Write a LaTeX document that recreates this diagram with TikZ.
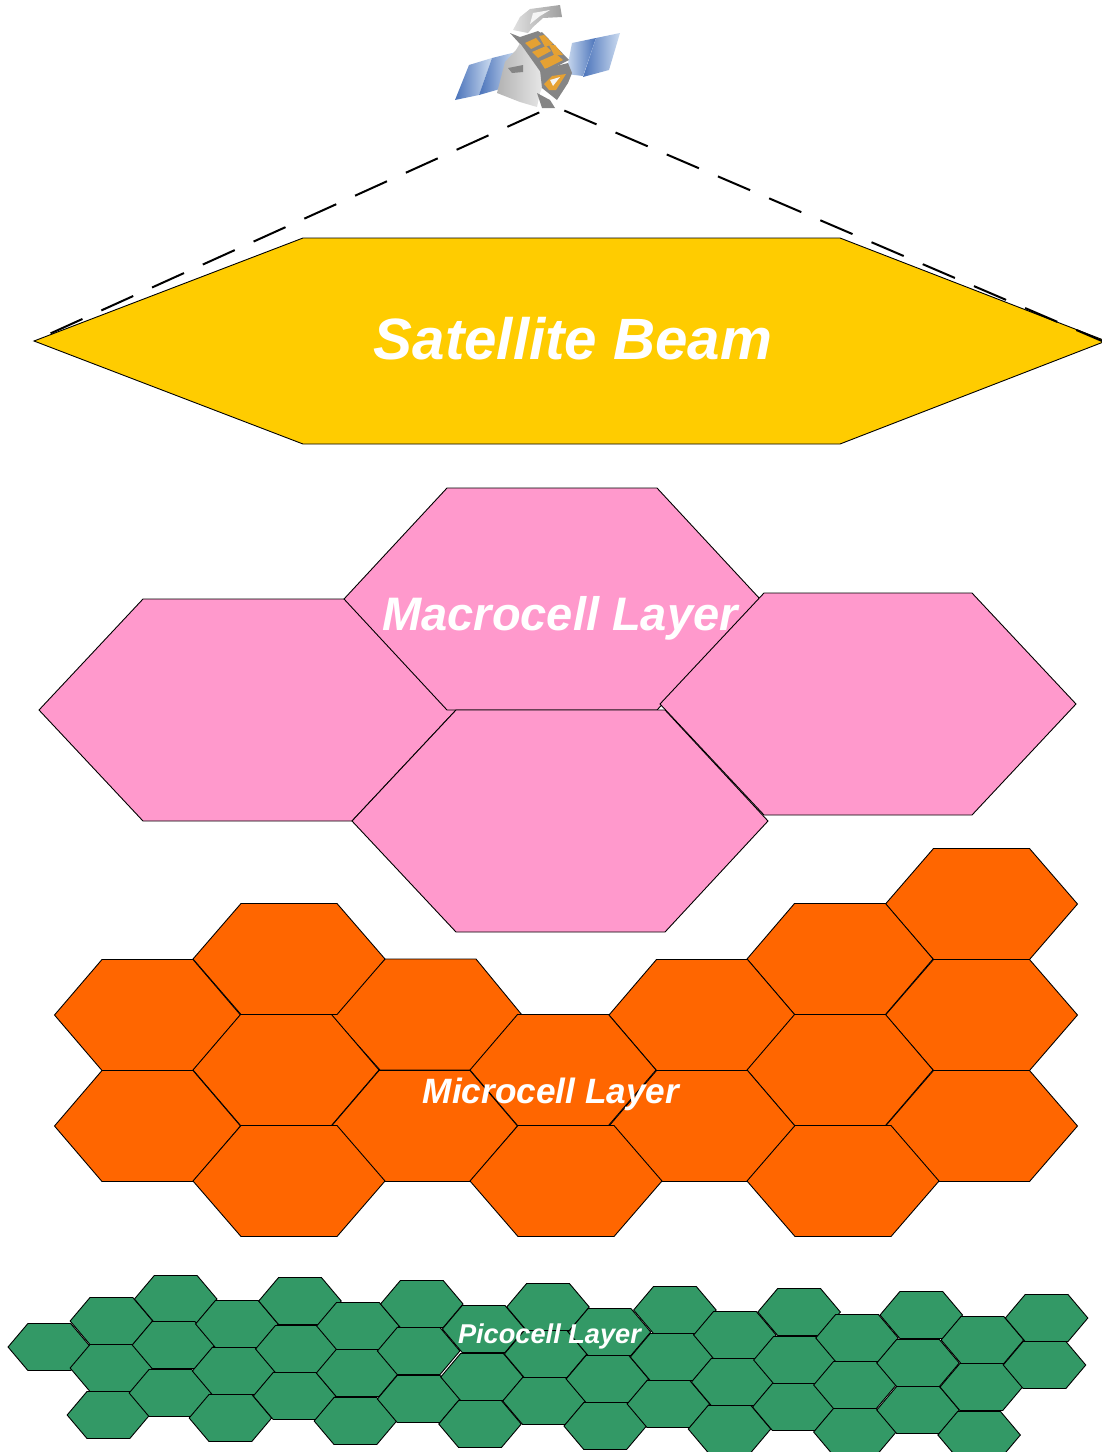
\documentclass[tikz,border=0pt]{standalone}
\usepackage{fontspec}
\setmainfont{Liberation Sans}
\newlength{\du}
\setlength{\du}{0.5pt}
\definecolor{beamcolor}{rgb}{1.000000, 0.800000, 0.000000}
\definecolor{macrocolor}{rgb}{1.000000, 0.600000, 0.800000}
\definecolor{microcolor}{rgb}{1.000000, 0.400000, 0.000000}
\definecolor{picocolor}{rgb}{0.200000, 0.600000, 0.400000}
\definecolor{panelblue}{rgb}{0.290000, 0.450000, 0.730000}
\definecolor{panelpale}{rgb}{0.800000, 0.860000, 0.940000}
\definecolor{foilcolor}{rgb}{0.900000, 0.630000, 0.200000}
\tikzset{
  cellline/.style={draw=black,line width=0.9\du,line join=miter},
  beamcell/.style={cellline,fill=beamcolor},
  macrocell/.style={cellline,fill=macrocolor},
  beamline/.style={black,line width=2\du,dash pattern=on 35\du off 20.7\du},
  layerlabel/.style={anchor=base,inner sep=0pt,text=white},
  satpanel/.style={draw=none,left color=panelblue,right color=panelpale},
  satpanelrev/.style={draw=none,left color=panelpale,right color=panelblue},
  satbody/.style={draw=none,left color=black!30,right color=black!6},
  satdish/.style={draw=none,left color=black!12,right color=black!38},
  satwhite/.style={draw=none,fill=black!4},
  satdark/.style={draw=none,fill=black!48},
  satfoil/.style={draw=none,fill=foilcolor},
  % small, middle and wide hexagons drawn around their centre
  picocell/.pic={
    \draw[cellline,fill=picocolor] (-41.250000\du,0\du)--(-21.400000\du,-23.500000\du)--(21.400000\du,-23.500000\du)--(41.250000\du,0\du)--(21.400000\du,23.500000\du)--(-21.400000\du,23.500000\du)--cycle;
  },
  microcell/.pic={
    \draw[cellline,fill=microcolor] (-93.000000\du,0\du)--(-45.500000\du,-55.500000\du)--(45.500000\du,-55.500000\du)--(93.000000\du,0\du)--(45.500000\du,55.500000\du)--(-45.500000\du,55.500000\du)--cycle;
  },
  microwide/.pic={
    \draw[cellline,fill=microcolor] (-96.000000\du,0\du)--(-48.000000\du,-55.500000\du)--(48.000000\du,-55.500000\du)--(96.000000\du,0\du)--(48.000000\du,55.500000\du)--(-48.000000\du,55.500000\du)--cycle;
  }
}

\begin{document}
\begin{tikzpicture}
\pgftransformxscale{1.000000}
\pgftransformyscale{-1.000000}
\useasboundingbox (0\du,0\du) rectangle (1102\du,1452\du);
% satellite, panels first
\path[satpanel] (455\du,100\du)--(469\du,65\du)--(492\du,58\du)--(479\du,95\du)--cycle;
\path[satpanel] (479\du,95\du)--(492\du,58\du)--(516\du,52\du)--(500\du,89\du)--cycle;
\path[satpanelrev] (572\du,43\du)--(596\du,38\du)--(583\du,76\du)--(566\du,74\du)--cycle;
\path[satpanel] (596\du,38\du)--(620\du,33\du)--(609\du,70\du)--(583\du,77\du)--cycle;
% dish and bus
\path[satdish] (513\du,30\du)--(520\du,17\du)--(530\du,9\du)--(560\du,5\du)--(562\du,17\du)--(543\du,18\du)--(533\du,27\du)--(528\du,33\du)--cycle;
\path[satwhite] (533\du,13\du)--(550\du,10\du)--(540\du,16\du)--(530\du,24\du)--cycle;
\path[satbody] (497\du,93\du)--(505\du,62\du)--(516\du,50\du)--(522\du,40\du)--(550\du,67\du)--(540\du,93\du)--(537\du,107\du)--(520\du,102\du)--cycle;
\path[satdark] (508\du,68\du)--(523\du,65\du)--(523\du,72\du)--(512\du,73\du)--cycle;
\path[satdark] (510\du,33\du)--(520\du,37\du)--(538\du,31\du)--(544\du,35\du)--(520\du,44\du)--cycle;
% foil covered box
\path[satdark] (520\du,43\du)--(542\du,32\du)--(569\du,60\du)--(542\du,74\du)--cycle;
\path[satfoil] (525\du,43\du)--(536\du,38\du)--(541\du,44\du)--(531\du,49\du)--cycle;
\path[satfoil] (539\du,36\du)--(544\du,35\du)--(553\du,44\du)--(545\du,47\du)--cycle;
\path[satfoil] (532\du,52\du)--(546\du,46\du)--(551\du,51\du)--(538\du,58\du)--cycle;
\path[satfoil] (549\du,45\du)--(555\du,45\du)--(563\du,55\du)--(554\du,55\du)--cycle;
\path[satfoil] (540\du,61\du)--(556\du,54\du)--(563\du,60\du)--(545\du,69\du)--cycle;
\path[satdark] (540\du,70\du)--(568\du,63\du)--(572\du,73\du)--(568\du,83\du)--(557\du,100\du)--(542\du,88\du)--cycle;
\path[satfoil] (544\du,84\du)--(552\du,76\du)--(566\du,74\du)--(556\du,90\du)--(549\du,90\du)--cycle;
\path[satwhite] (550\du,80\du)--(560\du,77\du)--(553\du,86\du)--cycle;
\path[satdark] (537\du,93\du)--(550\du,100\du)--(555\du,108\du)--(542\du,108\du)--cycle;
% beam, dashes run down from the apex
\coordinate (apexleft) at (549\du,108\du);
\coordinate (apexright) at (549\du,104\du);
\coordinate (beamleft) at (47\du,335\du);
\coordinate (beamright) at (1102\du,341\du);
\draw[beamcell] (34\du,341\du)--(303\du,238\du)--(840\du,238\du)--(1106\du,341\du)--(840\du,444\du)--(303\du,444\du)--cycle;
\draw[beamline,dash phase=45\du] (apexleft)--(beamleft);
\draw[beamline,dash phase=39\du] (apexright)--(beamright);
% macrocell layer
\draw[macrocell] (39\du,710\du)--(143\du,599\du)--(352\du,599\du)--(456\du,710\du)--(352\du,821\du)--(143\du,821\du)--cycle;
\draw[macrocell] (344\du,599\du)--(447\du,488\du)--(657\du,488\du)--(760\du,599\du)--(657\du,710\du)--(447\du,710\du)--cycle;
\draw[macrocell] (660\du,704\du)--(764\du,593\du)--(972\du,593\du)--(1076\du,704\du)--(972\du,815\du)--(764\du,815\du)--cycle;
\draw[macrocell] (352\du,821\du)--(456\du,710\du)--(665\du,710\du)--(768\du,821\du)--(665\du,932\du)--(456\du,932\du)--cycle;
% microcell layer
\draw[cellline,fill=microcolor] (331\du,1015\du)--(385\du,959\du)--(476\du,959\du)--(522\du,1015\du)--(476\du,1070\du)--(380\du,1070\du)--cycle;
\pic at (981.500000\du,904.000000\du) {microwide};
\pic at (289.000000\du,959.000000\du) {microwide};
\pic at (840.000000\du,959.000000\du) {microcell};
\pic at (147.500000\du,1015.000000\du) {microcell};
\pic at (702.000000\du,1015.000000\du) {microcell};
\pic at (981.500000\du,1015.000000\du) {microwide};
\pic at (286.000000\du,1070.000000\du) {microcell};
\pic at (563.000000\du,1070.000000\du) {microcell};
\pic at (840.000000\du,1070.000000\du) {microcell};
\pic at (147.500000\du,1126.000000\du) {microcell};
\pic at (424.500000\du,1126.000000\du) {microcell};
\pic at (702.000000\du,1126.000000\du) {microcell};
\pic at (981.500000\du,1126.000000\du) {microwide};
\pic at (289.000000\du,1181.000000\du) {microwide};
\pic at (566.000000\du,1181.000000\du) {microwide};
\pic at (843.000000\du,1181.000000\du) {microwide};
% picocell layer
\pic at (49.300000\du,1347.000000\du) {picocell};
\pic at (111.400000\du,1321.000000\du) {picocell};
\pic at (111.400000\du,1368.000000\du) {picocell};
\pic at (108.400000\du,1415.000000\du) {picocell};
\pic at (175.700000\du,1299.000000\du) {picocell};
\pic at (173.500000\du,1345.000000\du) {picocell};
\pic at (170.400000\du,1393.000000\du) {picocell};
\pic at (236.800000\du,1324.000000\du) {picocell};
\pic at (233.600000\du,1371.000000\du) {picocell};
\pic at (230.400000\du,1418.000000\du) {picocell};
\pic at (300.000000\du,1301.000000\du) {picocell};
\pic at (296.800000\du,1349.000000\du) {picocell};
\pic at (294.600000\du,1396.000000\du) {picocell};
\pic at (357.900000\du,1326.000000\du) {picocell};
\pic at (357.600000\du,1373.000000\du) {picocell};
\pic at (355.400000\du,1421.000000\du) {picocell};
\pic at (421.800000\du,1304.000000\du) {picocell};
\pic at (418.600000\du,1351.000000\du) {picocell};
\pic at (418.600000\du,1399.000000\du) {picocell};
\pic at (483.600000\du,1329.000000\du) {picocell};
\pic at (482.000000\du,1377.000000\du) {picocell};
\pic at (480.000000\du,1424.000000\du) {picocell};
\pic at (548.000000\du,1307.000000\du) {picocell};
\pic at (545.600000\du,1354.000000\du) {picocell};
\pic at (544.000000\du,1401.000000\du) {picocell};
\pic at (609.500000\du,1332.000000\du) {picocell};
\pic at (607.400000\du,1379.000000\du) {picocell};
\pic at (605.200000\du,1426.000000\du) {picocell};
\pic at (674.900000\du,1310.000000\du) {picocell};
\pic at (671.600000\du,1357.000000\du) {picocell};
\pic at (668.400000\du,1404.000000\du) {picocell};
\pic at (734.900000\du,1335.000000\du) {picocell};
\pic at (732.700000\du,1382.000000\du) {picocell};
\pic at (729.500000\du,1429.000000\du) {picocell};
\pic at (799.100000\du,1312.000000\du) {picocell};
\pic at (794.900000\du,1360.000000\du) {picocell};
\pic at (793.800000\du,1407.000000\du) {picocell};
\pic at (857.000000\du,1338.000000\du) {picocell};
\pic at (854.900000\du,1385.000000\du) {picocell};
\pic at (854.900000\du,1432.000000\du) {picocell};
\pic at (921.300000\du,1315.000000\du) {picocell};
\pic at (918.000000\du,1363.000000\du) {picocell};
\pic at (918.000000\du,1410.000000\du) {picocell};
\pic at (982.400000\du,1340.000000\du) {picocell};
\pic at (981.300000\du,1387.000000\du) {picocell};
\pic at (979.100000\du,1435.000000\du) {picocell};
\pic at (1046.600000\du,1318.000000\du) {picocell};
\pic at (1044.500000\du,1365.000000\du) {picocell};
% layer names
\node[layerlabel] (beamname) at (573.000000\du,359.000000\du){\fontsize{29.15pt}{30pt}\selectfont\bfseries\itshape Satellite Beam};
\node[layerlabel] (macroname) at (560.000000\du,630.000000\du){\fontsize{23.5pt}{24pt}\selectfont\bfseries\itshape Macrocell Layer};
\node[layerlabel] (microname) at (551.000000\du,1103.000000\du){\fontsize{17.6pt}{18pt}\selectfont\bfseries\itshape Microcell Layer};
\node[layerlabel] (piconame) at (549.500000\du,1343.000000\du){\fontsize{13.6pt}{14pt}\selectfont\bfseries\itshape Picocell Layer};
\end{tikzpicture}
\end{document}
